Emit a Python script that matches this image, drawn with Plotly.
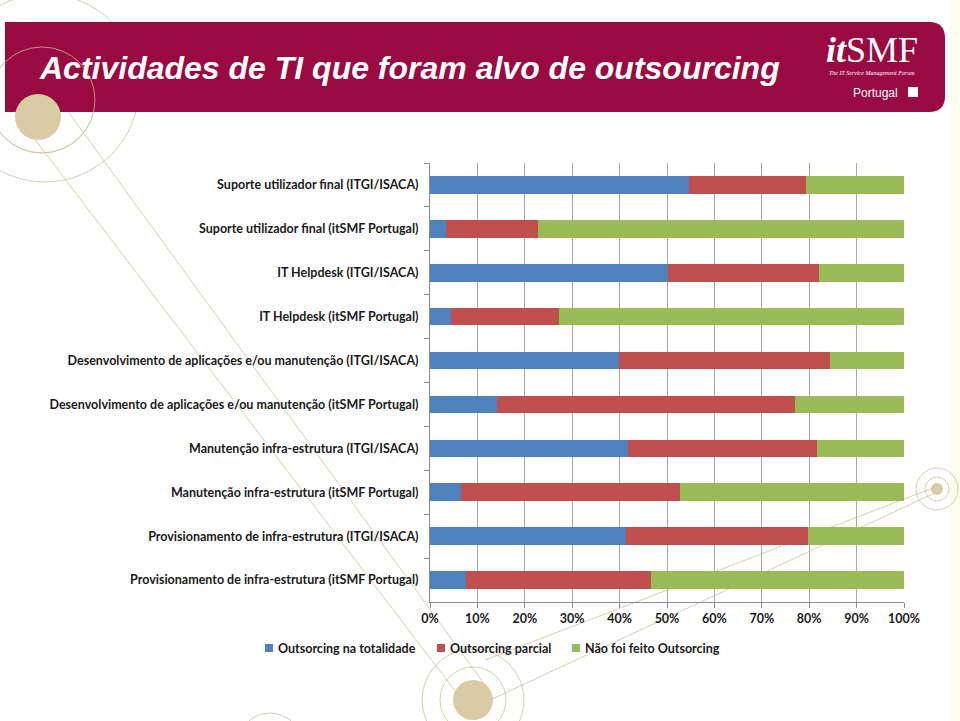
import plotly.graph_objects as go

categories = [
    "Suporte utilizador final (ITGI/ISACA)",
    "Suporte utilizador final (itSMF Portugal)",
    "IT Helpdesk (ITGI/ISACA)",
    "IT Helpdesk (itSMF Portugal)",
    "Desenvolvimento de aplicações e/ou manutenção (ITGI/ISACA)",
    "Desenvolvimento de aplicações e/ou manutenção (itSMF Portugal)",
    "Manutenção infra-estrutura (ITGI/ISACA)",
    "Manutenção infra-estrutura (itSMF Portugal)",
    "Provisionamento de infra-estrutura (ITGI/ISACA)",
    "Provisionamento de infra-estrutura (itSMF Portugal)",
]
total = [54.6, 3.4, 50.3, 4.4, 39.8, 14.2, 41.8, 6.5, 41.4, 7.6]
parcial = [24.8, 19.4, 31.8, 22.9, 44.6, 62.9, 39.9, 46.2, 38.3, 39.1]
nao = [20.6, 77.2, 17.9, 72.7, 15.6, 22.9, 18.3, 47.3, 20.3, 53.3]
series_names = ["Outsorcing na totalidade", "Outsorcing parcial", "Não foi feito Outsorcing"]
series_colors = ["#4F81BD", "#C0504D", "#9BBB59"]
x_ticks = [0, 0.1, 0.2, 0.3, 0.4, 0.5, 0.6, 0.7, 0.8, 0.9, 1.0]

W, H = 960, 721
def px(x): return x / W
def py(y): return 1 - y / H

fig = go.Figure()
for name, vals, col in zip(series_names, [total, parcial, nao], series_colors):
    fig.add_trace(go.Bar(
        y=categories, x=[v / 100 for v in vals], name=name, orientation="h",
        marker=dict(color=col, line=dict(width=0)), showlegend=False,
    ))

beige = "#D8CBA6"
ring = "rgba(205,190,150,0.75)"
shapes = []
shapes.append(dict(type="rect", xref="paper", yref="paper", x0=px(950), x1=px(960), y0=0, y1=1,
                   fillcolor="#FDFCEF", line=dict(width=0), layer="below"))
def circ(cx, cy, r, fill=None, lw=1, col=ring):
    return dict(type="circle", xref="paper", yref="paper", x0=px(cx - r), x1=px(cx + r),
                y0=py(cy + r), y1=py(cy - r), fillcolor=fill if fill else "rgba(0,0,0,0)",
                line=dict(width=0 if fill else lw, color=col), layer="below")
def line(x0, y0, x1, y1):
    return dict(type="line", xref="paper", yref="paper", x0=px(x0), y0=py(y0), x1=px(x1), y1=py(y1),
                line=dict(width=1, color=ring), layer="below")
shapes += [
    circ(42, 100, 53), circ(45, 88, 94),
    line(33, 137, 462, 700), line(67, 110, 490, 692),
    circ(473, 700, 33), circ(473, 700, 51), circ(270, 745, 32),
    circ(473, 700, 20, fill=beige),
    circ(937, 489, 12), circ(937, 489, 21),
    line(933, 488, 485, 660), line(937, 492, 490, 700),
    circ(937, 489, 6, fill=beige),
]
x0h, x1h, y0h, y1h, r = 5, 945, 22, 112, 16
path = (f"M {px(x0h)},{py(y0h)} L {px(x1h - r)},{py(y0h)} "
        f"Q {px(x1h)},{py(y0h)} {px(x1h)},{py(y0h + r)} "
        f"L {px(x1h)},{py(y1h - r)} Q {px(x1h)},{py(y1h)} {px(x1h - r)},{py(y1h)} "
        f"L {px(x0h)},{py(y1h)} Z")
shapes.append(dict(type="path", xref="paper", yref="paper", path=path,
                   fillcolor="#990A41", line=dict(width=0), layer="below"))
shapes.append(circ(42, 100, 53))
shapes.append(circ(38, 117, 23, fill=beige))
shapes.append(dict(type="rect", xref="paper", yref="paper", x0=px(908), x1=px(918), y0=py(97), y1=py(87),
                   fillcolor="white", line=dict(width=0), layer="above"))

annotations = [
    dict(text="<b><i>Actividades de TI que foram alvo de outsourcing</i></b>", x=px(37), y=py(68),
         xref="paper", yref="paper", xanchor="left", yanchor="middle", showarrow=False,
         font=dict(family="Liberation Sans, Arial", size=32, color="white")),
    dict(text="<b><i>it</i></b>SMF", x=px(872), y=py(50), xref="paper", yref="paper",
         xanchor="center", yanchor="middle", showarrow=False,
         font=dict(family="Liberation Serif, Times New Roman", size=36, color="white")),
    dict(text="<i>The IT Service Management Forum</i>", x=px(872), y=py(73), xref="paper", yref="paper",
         xanchor="center", yanchor="middle", showarrow=False,
         font=dict(family="Liberation Serif", size=6, color="white")),
    dict(text="Portugal", x=px(900), y=py(93), xref="paper", yref="paper",
         xanchor="right", yanchor="middle", showarrow=False,
         font=dict(family="Liberation Sans, Arial", size=12, color="white")),
]

legend_square_x = [265, 437, 572]
for name, col, sx in zip(series_names, series_colors, legend_square_x):
    shapes.append(dict(type="rect", xref="paper", yref="paper", x0=px(sx), x1=px(sx + 8),
                       y0=py(652), y1=py(644), fillcolor=col, line=dict(width=0)))
    annotations.append(dict(text=f"<b>{name}</b>", x=px(sx + 11), y=py(648), xref="paper", yref="paper",
                            xanchor="left", yanchor="middle", showarrow=False,
                            font=dict(family="Lato", size=12.5, color="#1A1A1A")))

fig.update_layout(
    width=W, height=H, barmode="stack", bargap=0.6,
    margin=dict(l=0, r=0, t=0, b=0),
    paper_bgcolor="white", plot_bgcolor="rgba(0,0,0,0)",
    shapes=shapes, annotations=annotations,
    font=dict(family="Lato", color="#1A1A1A"),
    xaxis=dict(domain=[px(430), px(904)], range=[0, 1], tickvals=x_ticks, tickformat=".0%",
               showgrid=True, gridcolor="#A8A8A8", gridwidth=1, zeroline=False,
               showline=True, linecolor="#8C8C8C", ticks="outside", ticklen=5, tickcolor="#8C8C8C",
               tickfont=dict(family="Lato", size=12.5, color="#1A1A1A", weight="bold"),
               automargin=False, fixedrange=True),
    yaxis=dict(domain=[py(602), py(163)], autorange="reversed", categoryorder="array",
               categoryarray=categories, showgrid=False, showline=True, linecolor="#8C8C8C",
               ticks="outside", tickson="boundaries", ticklen=5, tickcolor="#8C8C8C",
               tickfont=dict(family="Lato", size=12.5, color="#1A1A1A", weight="bold"),
               ticklabelstandoff=8, automargin=False, fixedrange=True),
    showlegend=False,
)

fig.write_html("out.html", config={"displayModeBar": False},
               post_script="document.body.style.margin='0';document.body.style.overflow='hidden';")
